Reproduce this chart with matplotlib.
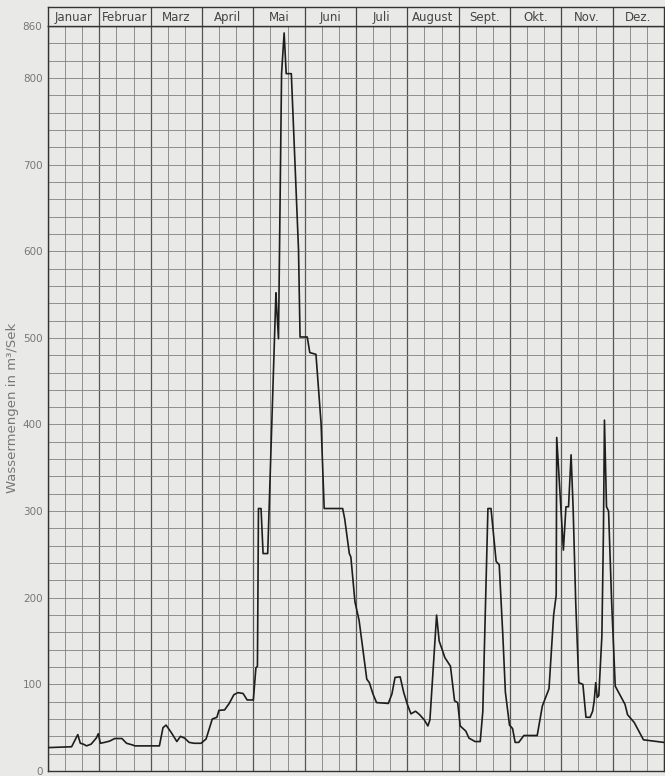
import numpy as np
import matplotlib
matplotlib.use("Agg")
import matplotlib.pyplot as plt

# month names in the header row
monate = ["Januar", "Februar", "Marz", "April", "Mai", "Juni",
          "Juli", "August", "Sept.", "Okt.", "Nov.", "Dez."]

# hydrograph: position in months (0 = 1. Januar, 12 = end of Dezember) and discharge in m3/s
monat = [0.00, 0.46, 0.58, 0.63, 0.69, 0.75, 0.84, 0.94, 0.98, 1.02,
         1.10, 1.20, 1.30, 1.44, 1.53, 1.65, 1.69, 2.17, 2.24, 2.30,
         2.40, 2.51, 2.58, 2.66, 2.75, 2.85, 2.98, 3.08, 3.20, 3.29,
         3.33, 3.44, 3.53, 3.62, 3.70, 3.80, 3.88, 4.00, 4.05, 4.08,
         4.10, 4.15, 4.19, 4.28, 4.44, 4.45, 4.49, 4.55, 4.60, 4.64,
         4.74, 4.88, 4.91, 5.05, 5.10, 5.22, 5.32, 5.38, 5.74, 5.78,
         5.87, 5.90, 5.98, 6.06, 6.21, 6.26, 6.33, 6.40, 6.63, 6.70,
         6.76, 6.86, 6.93, 7.00, 7.07, 7.16, 7.24, 7.33, 7.40, 7.44,
         7.57, 7.62, 7.68, 7.73, 7.84, 7.92, 7.98, 8.03, 8.14, 8.20,
         8.32, 8.42, 8.47, 8.57, 8.63, 8.73, 8.79, 8.86, 8.91, 8.99,
         9.05, 9.10, 9.17, 9.27, 9.53, 9.63, 9.76, 9.85, 9.90, 9.91,
         10.04, 10.09, 10.14, 10.19, 10.23, 10.28, 10.34, 10.42, 10.48, 10.56,
         10.61, 10.64, 10.67, 10.70, 10.73, 10.79, 10.82, 10.84, 10.88, 10.92,
         10.98, 11.05, 11.24, 11.29, 11.42, 11.60, 12.00]
abfluss = [27, 28, 42, 32, 31, 29, 31, 38, 43, 32,
           33, 34.5, 37.5, 37.5, 32, 30, 29, 29, 50, 53,
           44.5, 34, 40, 38, 33, 32, 32, 37, 60, 62,
           70, 70.5, 78, 88, 90.5, 89.5, 82, 82, 119, 121,
           303, 303, 251, 251, 552, 540, 499, 805, 852, 805,
           805, 602, 501, 501, 483, 481, 401, 303, 303, 291,
           251, 247, 195, 174, 106, 102, 89, 79, 78, 89,
           108, 108.7, 90.6, 77, 66, 69, 65, 59, 52, 59,
           180, 150, 140, 131, 121, 81, 79, 52, 46, 38,
           34, 34, 68.5, 303, 303, 242, 238, 157, 91, 53,
           49, 33, 33, 41, 41, 75, 95, 180, 203, 385,
           255, 305, 305, 365, 303, 195, 102, 100, 62, 62,
           69, 81, 102, 85, 87, 156, 275, 405, 305, 300,
           195, 98, 77, 65, 56, 36, 33]

y_ticks = [0, 100, 200, 300, 400, 500, 600, 700, 800, 860]

plt.rcParams["font.family"] = ["Liberation Sans Narrow", "DejaVu Sans"]

papier = "#e9e9e7"
grau = "#777777"

fig = plt.figure(figsize=(6.65, 7.76), dpi=100, facecolor=papier)

# main chart
ax = fig.add_axes([48 / 665, 5 / 776, 616 / 665, 745 / 776])
ax.set_facecolor(papier)
ax.set_xlim(0, 12)
ax.set_ylim(0, 860)

# graph paper grid: thirds of a month, 20 m3/s steps
for x in np.arange(0, 12.01, 1 / 3):
    is_month = abs(x - round(x)) < 1e-6
    ax.axvline(x, color="#555555" if is_month else "#808080",
               lw=0.9 if is_month else 0.6, zorder=1)
for y in np.arange(0, 861, 20):
    ax.axhline(y, color="#808080", lw=0.6, zorder=1)

ax.plot(monat, abfluss, color="#1e1e1e", lw=1.2, zorder=3)

ax.set_xticks([])
ax.set_yticks(y_ticks)
ax.set_yticklabels([str(v) for v in y_ticks])
ax.tick_params(axis="y", length=0, pad=4, labelsize=7.5, labelcolor=grau)
for s in ax.spines.values():
    s.set_color("#333333")
    s.set_linewidth(1.0)

fig.text(13 / 665, 1 - 408 / 776, "Wassermengen in m³/Sek", rotation=90,
         ha="center", va="center", fontsize=9.5, color=grau)

# header row with month names
hx = fig.add_axes([48 / 665, 750 / 776, 616 / 665, 19 / 776])
hx.set_facecolor(papier)
hx.set_xlim(0, 12)
hx.set_ylim(0, 1)
for i in range(1, 12):
    hx.axvline(i, color="#444444", lw=0.9)
for i, name in enumerate(monate):
    hx.text(i + 0.5, 0.45, name, ha="center", va="center", fontsize=8.5,
            color="#444444")
hx.set_xticks([])
hx.set_yticks([])
for s in hx.spines.values():
    s.set_color("#333333")
    s.set_linewidth(1.0)

fig.savefig("out.png", dpi=100, facecolor=papier)
